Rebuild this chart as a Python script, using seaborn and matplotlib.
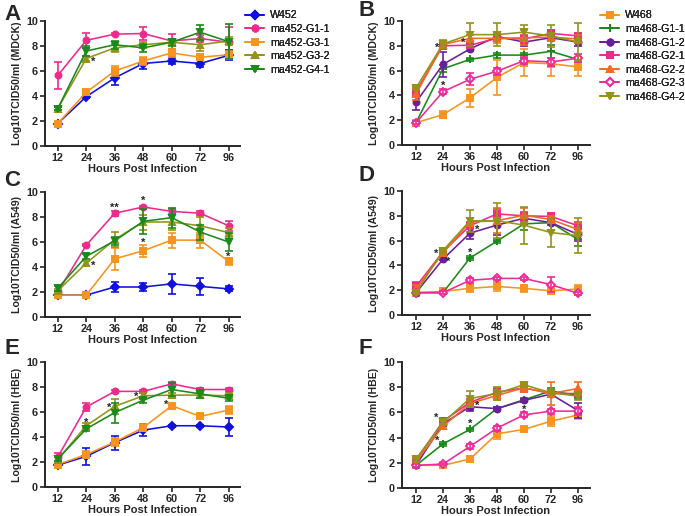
import numpy as np
import pandas as pd
import seaborn as sns
import matplotlib.pyplot as plt

sns.set_style("ticks")
plt.rcParams['font.family'] = ['Liberation Sans', 'DejaVu Sans']

# 시간 (Hours Post Infection)
hours = ["12", "24", "36", "48", "60", "72", "96"]

# 452 계열 (A, C, E)
strains_452 = ["W452", "ma452-G1-1", "ma452-G3-1", "ma452-G3-2", "ma452-G4-1"]
colors_452 = ["#1010e0", "#ee2a8a", "#f7941d", "#939318", "#1a8a1a"]
markers_452 = ["D", "o", "s", "^", "v"]

# 468 계열 (B, D, F)
strains_468 = ["W468", "ma468-G1-1", "ma468-G1-2", "ma468-G2-1", "ma468-G2-2", "ma468-G2-3", "ma468-G4-2"]
colors_468 = ["#f7941d", "#1a8a1a", "#6a1f9a", "#ee2a8a", "#f26b21", "#ee2a9a", "#939318"]
markers_468 = ["s", "+", "o", "s", "^", "D", "v"]

# A: MDCK
mdck_452 = [
    [1.8, 3.95, 5.45, 6.6, 6.8, 6.6, 7.25],
    [5.65, 8.45, 8.95, 9.0, 8.4, 8.6, 8.3],
    [1.8, 4.3, 6.0, 6.8, 7.45, 7.1, 7.3],
    [3.0, 7.0, 7.85, 8.1, 8.3, 8.1, 8.4],
    [3.0, 7.6, 8.1, 7.85, 8.3, 9.1, 8.35],
]
mdck_452_err = [
    [0.1, 0.1, 0.6, 0.4, 0.25, 0.3, 0.4],
    [1.1, 0.6, 0.1, 0.5, 0.6, 0.3, 1.2],
    [0.1, 0.15, 0.4, 0.3, 0.3, 0.2, 0.3],
    [0.15, 0.2, 0.3, 0.2, 0.2, 0.5, 0.3],
    [0.15, 0.4, 0.3, 0.3, 0.3, 0.6, 1.4],
]

# B: MDCK
mdck_468 = [
    [1.8, 2.45, 3.8, 5.45, 6.65, 6.55, 6.3],
    [1.8, 6.15, 6.9, 7.25, 7.25, 7.55, 6.9],
    [3.45, 6.5, 7.75, 8.75, 8.3, 8.65, 8.3],
    [4.3, 8.0, 8.05, 8.6, 8.55, 9.0, 8.8],
    [4.1, 8.1, 8.6, 8.6, 8.65, 8.7, 8.55],
    [1.8, 4.3, 5.3, 5.95, 6.8, 6.7, 7.0],
    [4.6, 8.15, 8.9, 8.9, 9.1, 8.8, 8.3],
]
mdck_468_err = [
    [0.1, 0.3, 0.7, 1.4, 1.1, 1.0, 0.7],
    [0.1, 0.3, 0.15, 0.2, 0.2, 0.5, 0.2],
    [0.6, 1.0, 0.2, 0.2, 0.3, 0.2, 0.3],
    [0.4, 0.2, 0.2, 0.2, 0.3, 0.2, 0.2],
    [0.5, 0.3, 0.3, 0.4, 0.6, 0.3, 0.3],
    [0.1, 0.2, 0.5, 0.3, 0.3, 0.3, 0.3],
    [0.2, 0.3, 0.9, 0.9, 0.6, 0.9, 1.5],
]

# C: A549
a549_452 = [
    [1.75, 1.75, 2.4, 2.4, 2.65, 2.45, 2.25],
    [2.0, 5.75, 8.3, 8.8, 8.45, 8.3, 7.3],
    [1.75, 1.75, 4.65, 5.3, 6.15, 6.15, 4.45],
    [2.1, 4.3, 6.2, 7.6, 7.6, 7.3, 6.75],
    [2.3, 4.85, 6.1, 7.65, 7.95, 6.8, 6.0],
]
a549_452_err = [
    [0.1, 0.1, 0.4, 0.3, 0.8, 0.65, 0.2],
    [0.1, 0.1, 0.2, 0.1, 0.2, 0.15, 0.4],
    [0.1, 0.1, 0.85, 0.5, 0.6, 0.6, 0.3],
    [0.15, 0.2, 0.6, 0.6, 0.6, 0.7, 0.4],
    [0.2, 0.2, 0.3, 1.0, 0.8, 0.6, 0.7],
]

# D: A549
a549_468 = [
    [1.8, 1.9, 2.15, 2.3, 2.15, 1.95, 2.1],
    [1.8, 1.8, 4.6, 5.95, 7.35, 7.45, 6.1],
    [1.8, 4.5, 6.6, 7.25, 7.8, 7.45, 6.5],
    [2.3, 5.1, 7.2, 8.15, 8.0, 7.95, 7.2],
    [2.1, 5.0, 7.5, 7.6, 8.05, 7.7, 6.9],
    [1.8, 1.8, 2.8, 2.95, 2.95, 2.45, 1.75],
    [1.8, 5.2, 7.6, 7.6, 7.25, 6.65, 6.4],
]
a549_468_err = [
    [0.1, 0.15, 0.3, 0.4, 0.3, 0.2, 0.3],
    [0.1, 0.1, 0.15, 0.15, 0.5, 0.6, 0.5],
    [0.1, 0.1, 0.5, 0.8, 0.2, 0.2, 0.5],
    [0.4, 0.2, 0.3, 0.4, 0.3, 0.2, 0.3],
    [0.3, 0.2, 0.3, 1.0, 0.6, 0.3, 0.5],
    [0.1, 0.1, 0.2, 0.15, 0.15, 0.6, 0.1],
    [0.1, 0.2, 0.9, 1.4, 1.5, 1.2, 1.4],
]

# E: HBE
hbe_452 = [
    [1.75, 2.45, 3.55, 4.55, 4.9, 4.9, 4.8],
    [2.4, 6.4, 7.65, 7.65, 8.25, 7.8, 7.8],
    [1.8, 2.6, 3.6, 4.75, 6.5, 5.65, 6.15],
    [2.2, 4.9, 6.45, 7.3, 7.35, 7.35, 7.3],
    [2.25, 4.65, 5.95, 6.95, 7.8, 7.45, 7.1],
]
hbe_452_err = [
    [0.1, 0.65, 0.55, 0.5, 0.1, 0.1, 0.7],
    [0.3, 0.35, 0.1, 0.1, 0.15, 0.1, 0.1],
    [0.1, 0.3, 0.3, 0.3, 0.15, 0.1, 0.3],
    [0.2, 0.2, 0.6, 0.2, 0.2, 0.2, 0.2],
    [0.2, 0.2, 0.8, 0.2, 0.5, 0.3, 0.2],
]

# F: HBE
hbe_468 = [
    [1.8, 1.8, 2.3, 4.3, 4.65, 5.3, 5.8],
    [1.8, 3.5, 4.65, 6.3, 7.0, 7.7, 7.35],
    [1.8, 5.1, 6.45, 6.3, 6.95, 7.45, 6.15],
    [2.2, 5.3, 6.8, 7.6, 7.95, 7.5, 7.5],
    [2.1, 4.9, 6.7, 7.35, 7.95, 7.5, 7.9],
    [1.8, 1.9, 3.3, 4.75, 5.8, 6.1, 6.1],
    [2.3, 5.2, 7.1, 7.5, 8.2, 7.55, 7.3],
]
hbe_468_err = [
    [0.1, 0.1, 0.2, 0.4, 0.15, 0.4, 0.3],
    [0.1, 0.15, 0.15, 0.15, 0.15, 0.2, 0.3],
    [0.1, 0.15, 0.3, 0.15, 0.15, 0.2, 0.6],
    [0.2, 0.2, 0.3, 0.3, 0.3, 0.3, 0.3],
    [0.2, 0.2, 0.3, 0.4, 0.3, 0.9, 0.5],
    [0.1, 0.1, 0.2, 0.2, 0.2, 0.2, 0.3],
    [0.2, 0.2, 0.6, 0.5, 0.2, 0.2, 0.3],
]

# 유의성 표시 (x 위치, y, 텍스트)
stars_a = [(1.25, 6.75, "*")]
stars_b = [(0.78, 7.85, "*"), (1.75, 8.2, "*"), (1.0, 4.8, "*")]
stars_c = [(1.25, 4.1, "*"), (2.0, 8.75, "**"), (3.0, 9.3, "*"), (3.0, 5.9, "*"), (6.0, 4.85, "*")]
stars_d = [(0.75, 4.95, "*"), (1.2, 4.3, "*"), (2.0, 5.0, "*"), (2.25, 6.85, "*")]
stars_e = [(1.0, 5.15, "*"), (1.8, 6.35, "*"), (2.75, 7.2, "*"), (3.8, 6.55, "*")]
stars_f = [(0.75, 5.6, "*"), (0.8, 3.75, "*"), (2.0, 5.1, "*"), (2.25, 6.5, "*"), (4.0, 6.2, "*")]

fig = plt.figure(figsize=(6.85, 5.16), dpi=100)

W, H = 685, 516
# (글자, 축 위치 px [left, top, right, bottom], 글자 위치 px, 범례 x px, ...)
panels = [
    ("A", (45, 21, 240, 146), (4, 15), 238, mdck_452, mdck_452_err, strains_452, colors_452, markers_452, "Log10TCID50/ml (MDCK)", stars_a, (-0.45, 6.4)),
    ("B", (402, 21, 590, 145), (358, 10), 593, mdck_468, mdck_468_err, strains_468, colors_468, markers_468, "Log10TCID50/ml (MDCK)", stars_b, (-0.52, 6.45)),
    ("C", (45, 192, 240, 317), (4, 180), 238, a549_452, a549_452_err, strains_452, colors_452, markers_452, "Log10TCID50/ml (A549)", stars_c, (-0.45, 6.4)),
    ("D", (402, 191, 590, 315), (358, 176), 593, a549_468, a549_468_err, strains_468, colors_468, markers_468, "Log10TCID50/ml (A549)", stars_d, (-0.52, 6.45)),
    ("E", (45, 362, 240, 487), (4, 349), 238, hbe_452, hbe_452_err, strains_452, colors_452, markers_452, "Log10TCID50/ml (HBE)", stars_e, (-0.45, 6.4)),
    ("F", (402, 362, 590, 488), (358, 349), 593, hbe_468, hbe_468_err, strains_468, colors_468, markers_468, "Log10TCID50/ml (HBE)", stars_f, (-0.52, 6.45)),
]

xpos = np.arange(len(hours))

for letter, px, lpos, legx, means, errs, names, cols, marks, ylab, stars, xl in panels:
    l, t, r, b = px
    ax = fig.add_axes([l / W, 1 - b / H, (r - l) / W, (b - t) / H])
    for vals, err, name, c, m in zip(means, errs, names, cols, marks):
        df = pd.DataFrame({"x": xpos, "y": vals})
        mfc = "white" if name == "ma468-G2-3" else c
        ms = 6 if m == "+" else 4.3
        sns.lineplot(data=df, x="x", y="y", ax=ax, color=c, marker=m, markersize=ms,
                     markerfacecolor=mfc, markeredgecolor=c, markeredgewidth=1.4,
                     linewidth=1.15, label=name, clip_on=False)
        ax.errorbar(xpos, vals, yerr=err, fmt="none", ecolor=c, elinewidth=1.2,
                    capsize=2.8, capthick=1.2, clip_on=False)
    for sx, sy, st in stars:
        ax.text(sx, sy, st, ha="center", va="center", fontsize=8, fontweight="bold")

    ax.set_xlim(*xl)
    ax.set_ylim(0, 10)
    ax.set_xticks(xpos)
    ax.set_xticklabels(hours)
    ax.set_yticks([0, 2, 4, 6, 8, 10])
    ax.set_xlabel("Hours Post Infection", fontsize=8, fontweight="bold", labelpad=1)
    ax.set_ylabel(ylab, fontsize=7.6, fontweight="bold", labelpad=3)
    for lab in ax.get_xticklabels() + ax.get_yticklabels():
        lab.set_fontweight("bold")
    ax.tick_params(labelsize=7.8, width=1.2, length=3.5, pad=1.5)
    for s in ["top", "right"]:
        ax.spines[s].set_visible(False)
    for s in ["left", "bottom"]:
        ax.spines[s].set_linewidth(1.4)

    ax.legend(loc="upper left", bbox_to_anchor=(legx / W, 1 - 3 / H),
              bbox_transform=fig.transFigure, frameon=False, fontsize=7.7,
              handlelength=1.7, handletextpad=0.6, labelspacing=0.33, borderpad=0.2)

    fig.text(lpos[0] / W, 1 - lpos[1] / H, letter, fontsize=16, fontweight="bold",
             va="center", ha="left")

fig.savefig("out.png", dpi=100)
